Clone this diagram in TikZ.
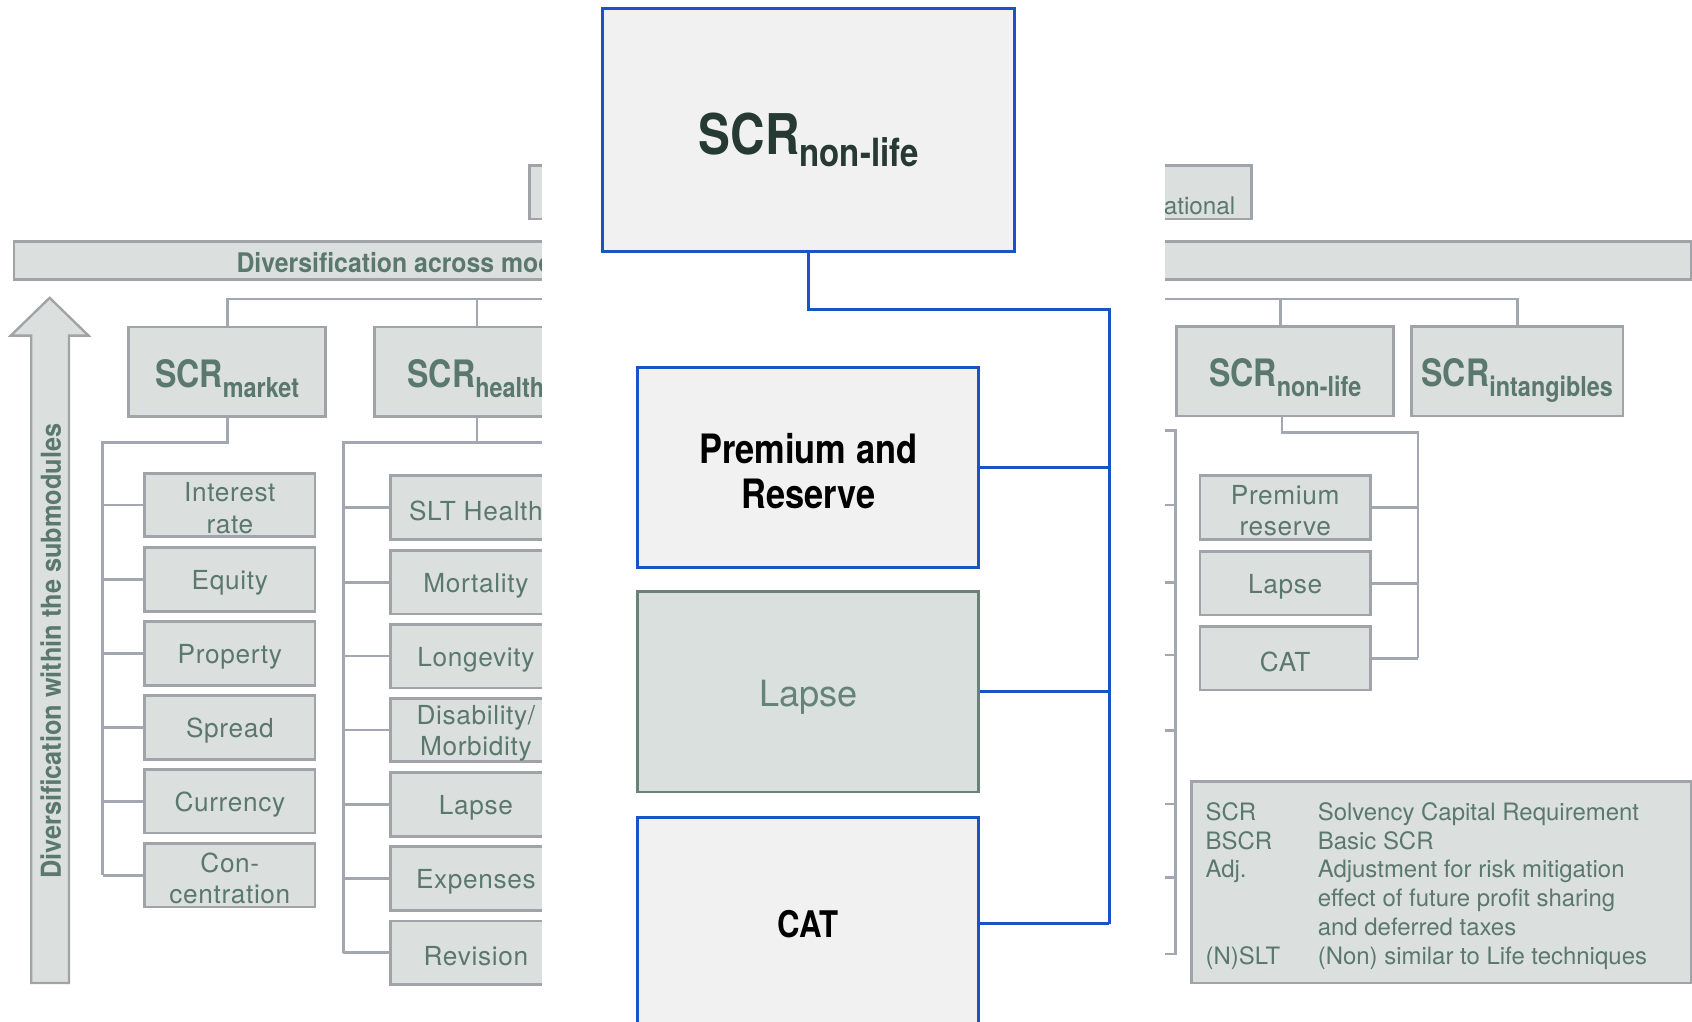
\documentclass[tikz,border=0pt]{standalone}
\usepackage{fontspec}
\setmainfont{TeX Gyre Heros}
\newfontfamily\condfont{TeX Gyre Heros}[FakeStretch=0.85]
\newfontfamily\semicond{TeX Gyre Heros}[FakeStretch=0.92]
\newfontfamily\widefont{TeX Gyre Heros}[LetterSpace=2.5]
\usetikzlibrary{calc}

\definecolor{bgfill}{HTML}{DBE0DE}
\definecolor{bgline}{HTML}{A0A3A7}
\definecolor{linkgray}{HTML}{A2A7B1}
\definecolor{bgtext}{HTML}{5B786E}
\definecolor{zoomblue}{HTML}{1A53C5}
\definecolor{zoomfill}{HTML}{F1F1F1}
\definecolor{scrdark}{HTML}{263A33}
\definecolor{lapseline}{HTML}{6B8279}
\definecolor{lapsefill}{HTML}{DAE0DD}
\definecolor{lapsetext}{HTML}{66837A}

% SCR with a lowered subscript: #1 main size, #2 subscript size, #3 drop, #4 subscript
\newcommand\scrname[4]{{\fontsize{#1}{#1}\selectfont SCR}\raisebox{-#3pt}{\fontsize{#2}{#2}\selectfont #4}}

\tikzset{
  bgbox/.style={draw=bgline, fill=bgfill, line width=2.6pt, inner sep=0pt, text=bgtext},
  subbox/.style={bgbox, minimum width=158pt, minimum height=59pt},
  subtext/.style={inner sep=0pt, align=center, text=bgtext, font=\widefont\fontsize{24.3}{29}\selectfont},
  modbox/.style={bgbox, minimum height=83pt},
  modlabel/.style={anchor=base, inner sep=0pt, text=bgtext, font=\condfont\bfseries},
  link/.style={draw=linkgray, line width=2.6pt},
  graybold/.style={inner sep=0pt, text=bgtext, font=\semicond\bfseries\fontsize{25}{25}\selectfont},
  zoombox/.style={draw=zoomblue, fill=zoomfill, line width=2.8pt, inner sep=0pt, minimum width=316pt},
  zoomlink/.style={draw=zoomblue, line width=2.8pt},
}

% submodule box: name, x, y, text
\newcommand\submodule[4]{%
  \node[subbox] (#1) at (#2,#3) {};
  \node[subtext] (#1-text) at ([yshift=-3pt]#1.center) {#4};}

\begin{document}
\begin{tikzpicture}[x=1pt, y=-1pt]
\useasboundingbox (0,0) rectangle (1568,947);
\clip (0,0) rectangle (1568,947);

% ---------- module tree in the background ----------
\node[bgbox, minimum width=80pt, minimum height=50pt] (adj) at (531,178) {};
\node[bgbox, minimum width=170pt, minimum height=50pt] (oper) at (1075,178) {};
\node[anchor=base east, inner sep=0pt, text=bgtext, font=\fontsize{22.5}{22.5}\selectfont] (opertext) at (1145,198.5) {Operational};

\node[bgbox, minimum width=1554pt, minimum height=35pt] (bar) at (790,241.5) {};
\node[graybold, anchor=west] (bartext) at (219,243) {Diversification across modules};

% upward arrow
\filldraw[draw=bgline, fill=bgfill, line width=2.2pt]
  (29,911) -- (29,311) -- (10,311) -- (46,276) -- (82,311) -- (64,311) -- (64,911) -- cycle;
\node[graybold, rotate=90, font=\semicond\bfseries\fontsize{25.5}{25.5}\selectfont] (arrowtext) at (47,603.5)
  {Diversification within the submodules};

% module boxes
\node[modbox, minimum width=183pt] (mkt) at (210.5,344.5) {};
\node[modlabel] (mktlbl) at (210.5,359) {\scrname{35}{25.5}{9}{market}};
\node[modbox, minimum width=190pt] (hlt) at (442,344.5) {};
\node[modlabel] (hltlbl) at (441,359) {\scrname{35}{25.5}{9}{health}};
\node[modbox, minimum width=201pt] (nl) at (1190.5,344) {};
\node[modlabel] (nllbl) at (1191,358) {\scrname{35}{25.5}{9}{non-life}};
\node[modbox, minimum width=196pt] (intang) at (1406,344) {};
\node[modlabel] (intanglbl) at (1406,358) {\scrname{35}{25.5}{9}{intangibles}};

\coordinate (topbus) at (0,277);
\draw[link] (mkt.north) -- (mkt.north |- topbus) -- (intang.north |- topbus) -- (intang.north);
\draw[link] (hlt.north |- topbus) -- (hlt.north);
\draw[link] (nl.north -| 1187,0) -- (1187,277);

% market submodules
\submodule{ir}{213}{468}{Interest\\rate}
\submodule{eq}{213}{537}{Equity}
\submodule{pr}{213}{605.5}{Property}
\submodule{sp}{213}{674}{Spread}
\submodule{cu}{213}{742.5}{Currency}
\submodule{co}{213}{811}{Con-\\centration}
\coordinate (mbus) at (95,410);
\draw[link] (mkt.south) |- (mbus) -- (mbus |- co.west);
\foreach \b in {ir,eq,pr,sp,cu,co} \draw[link] (mbus |- \b.west) -- (\b.west);

% health submodules
\submodule{slt}{441}{470.5}{SLT Health}
\submodule{mor}{441}{539.5}{Mortality}
\submodule{lon}{441}{608}{Longevity}
\submodule{dis}{441}{676.5}{Disability/\\Morbidity}
\submodule{hla}{441}{745.5}{Lapse}
\submodule{exs}{441}{814}{Expenses}
\submodule{rev}{441}{883}{Revision}
\coordinate (hbus) at (318,410);
\coordinate (hbusend) at (570,410);
\draw[link] (hlt.south) |- (hbus) -- (hbus |- rev.west);
\draw[link] (hlt.south |- hbus) -- (hbusend);
\foreach \b in {slt,mor,lon,dis,hla,exs,rev} \draw[link] (hbus |- \b.west) -- (\b.west);

% life bracket on the right
\coordinate (lifetop) at (1089,399);
\coordinate (lifebot) at (1089,884);
\draw[link] (1060,399) -- (lifetop) -- (lifebot) -- (1060,884);
\foreach \y in {468,540,607,677,745,813} \draw[link] (1060,\y) -- (lifetop |- 0,\y);

% non-life submodules
\submodule{nprr}{1191}{470.5}{Premium\\reserve}
\submodule{nlap}{1191}{540.5}{Lapse}
\submodule{ncat}{1191}{610}{CAT}
\coordinate (nbus) at (1314,401);
\draw[link] (nl.south -| 1188,0) |- (nbus) -- (nbus |- ncat.east);
\foreach \b in {nprr,nlap,ncat} \draw[link] (\b.east) -- (nbus |- \b.east);

% abbreviations
\node[bgbox, minimum width=463pt, minimum height=187pt] (legend) at (1335.5,817.5) {};
\node[anchor=base west, inner sep=0pt, text=bgtext, font=\fontsize{22.2}{26.8}\selectfont] (legendtext) at (1117,760)
  {\begin{tabular}[t]{@{}p{104pt}@{}l@{}}
   SCR    & Solvency Capital Requirement\\
   BSCR   & Basic SCR\\
   Adj.   & Adjustment for risk mitigation\\
          & effect of future profit sharing\\
          & and deferred taxes\\
   (N)SLT & (Non) similar to Life techniques
   \end{tabular}};

% ---------- enlarged non-life module ----------
\fill[white] (502,0) rectangle (1080,947);

\node[zoombox, minimum width=382pt, minimum height=225pt] (cscr) at (749,120.5) {};
\node[anchor=base, inner sep=0pt, text=scrdark, font=\condfont\bfseries] (cscrlbl) at (749.5,143)
  {\scrname{52}{36}{11}{non-life}};

\node[zoombox, minimum height=185pt] (cprem) at (749,433.5) {};
\node[inner sep=0pt, align=center, font=\condfont\bfseries\fontsize{37.5}{41}\selectfont] (cpremlbl)
  at ([yshift=-3pt]cprem.center) {Premium and\\Reserve};
\node[draw=lapseline, fill=lapsefill, line width=2.6pt, inner sep=0pt, minimum width=316pt,
      minimum height=186pt, text=lapsetext, text height=34pt, text depth=7pt,
      font=\fontsize{33.5}{33.5}\selectfont] (clapse) at (749,641) {Lapse};
\node[zoombox, minimum height=220pt] (ccat) at (749,868) {};
\node[inner sep=0pt, font=\condfont\bfseries\fontsize{34}{34}\selectfont] (ccatlbl) at (749,856) {CAT};

\coordinate (cbus) at (1028,287);
\draw[zoomlink] (cscr.south) |- (cbus) -- (cbus |- ccatlbl);
\draw[zoomlink] (cprem.east) -- (cbus |- cprem.east);
\draw[zoomlink] (clapse.east) -- (cbus |- clapse.east);
\draw[zoomlink] (ccatlbl -| ccat.east) -- (cbus |- ccatlbl);
\end{tikzpicture}
\end{document}
